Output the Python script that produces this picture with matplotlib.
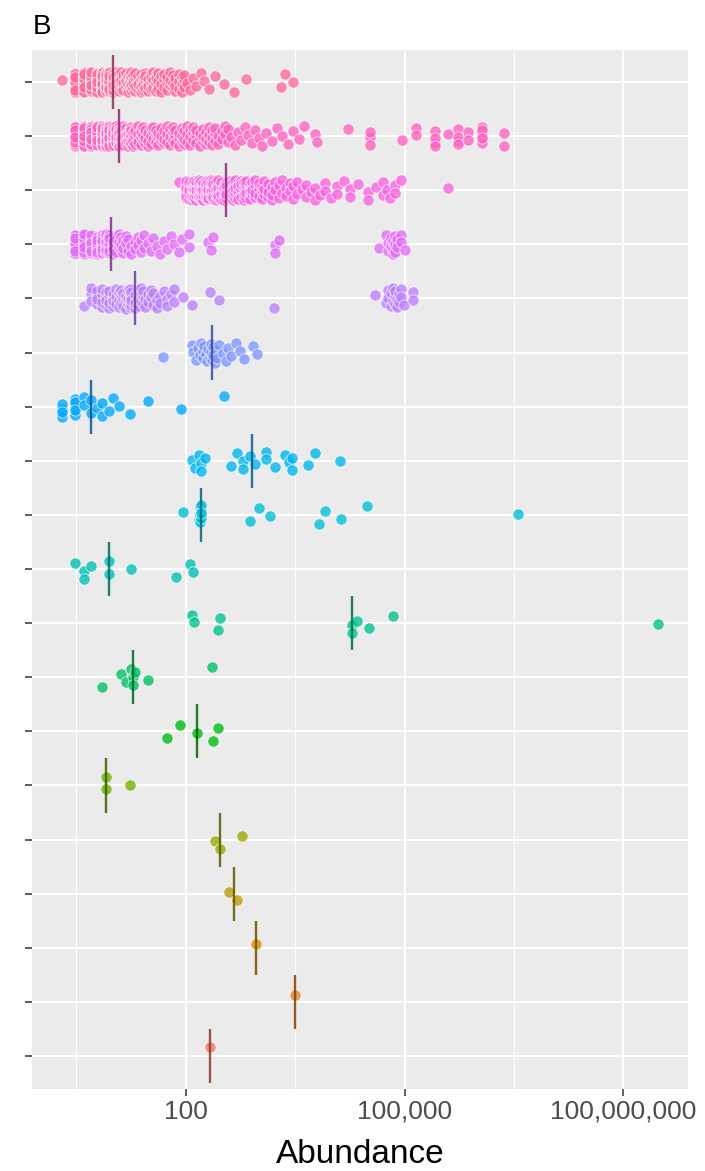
import numpy as np
import matplotlib
matplotlib.use("Agg")
import matplotlib.pyplot as plt
from matplotlib.ticker import FixedLocator, NullFormatter

plt.rcParams['font.family'] = ['Liberation Sans', 'DejaVu Sans']

# ---------------- data (rows listed top to bottom) ----------------
# dense rows: distinct abundance values with their frequencies
r01_values = [2,3,4,5,6,7,8,9,10,11,12,13,14,15,16,17,18,19,20,22,24,26,28,30,33,36,39,42,46,50,55,60,66,72,80,88,95,
              105,115,125,140,160,180,210,250,330,455,660,2000,2300,2950]
r01_counts = [1,18,18,18,17,17,16,16,9,5,5,5,4,4,4,4,4,4,4,4,4,4,4,4,4,4,4,4,3,3,3,3,3,3,3,3,3,
              1,1,1,1,1,1,1,1,1,1,1,1,1,1]

r02_values = [3,4,5,6,7,8,9,10,11,12,13,14,15,16,17,18,19,20,22,24,
              26,28,30,33,36,39,42,46,50,55,60,66,72,80,88,96,
              105,115,125,140,155,170,190,210,230,255,280,310,340,380,
              420,470,520,580,650,720,800,900,1000,1100,1250,1500,1800,2100,2500,3000,3600,4200,5900,6400,
              16600,34000,91000,145000,265000,390000,535000,730000,1170000,2300000]
r02_counts = [28,26,24,22,21,20,19,14,11,10,6,6,5,5,5,4,4,4,4,4,
              3,3,3,3,3,3,3,3,3,3,3,3,3,3,3,3,
              3,3,3,3,3,3,3,3,3,3,2,2,2,2,
              1,1,1,1,1,1,1,1,1,1,1,1,1,1,1,1,1,1,1,1,
              1,3,1,2,4,1,4,2,5,2]

r03_values = [80,100,110,120,130,140,150,160,175,190,205,220,240,260,280,300,330,360,
              400,440,480,520,570,620,680,750,820,900,1000,1100,1200,1350,1500,
              1700,1900,2100,2400,2700,3000,3400,3900,4500,5200,6000,7000,8200,9700,
              12000,15000,18000,23000,32000,40000,50000,58000,64000,75000,88000,390000]
r03_counts = [1,7,7,7,7,7,7,7,7,7,7,7,7,6,6,6,6,6,
              5,5,5,5,5,5,5,5,4,4,3,3,3,3,3,
              2,2,2,2,2,2,2,1,2,1,2,1,2,1,
              2,1,2,1,2,1,2,1,1,2,1,1]

r04_values = [3,4,5,6,7,8,9,10,11,12,13,14,15,16,18,20,22,24,27,30,33,36,40,45,50,56,62,70,80,90,
              112,200,220,240,1700,1900,45000,55000,60000,65000,70000,75000,80000,90000,100000]
r04_counts = [12,10,10,9,9,8,9,4,4,3,3,3,2,2,2,2,2,2,2,1,1,1,1,1,1,1,1,1,1,1,
              2,1,1,1,2,1,1,1,2,2,3,3,2,2,1]

r05_values = [4,5,6,7,8,9,10,11,12,13,14,15,16,17,18,20,22,24,26,28,30,33,36,40,45,50,55,62,69,
              91,121,213,283,1600,39000,55000,60000,65000,70000,75000,80000,85000,90000,98000,132000]
r05_counts = [1,3,4,4,4,4,4,3,3,3,3,3,3,4,4,3,3,3,3,2,2,2,2,2,2,1,2,1,2,
              1,1,1,1,1,1,1,2,2,2,3,2,2,2,1,2]

# sparse rows: individual abundance values
r06 = [49,120,125,140,145,155,160,170,175,180,190,198,205,215,220,225,232,235,240,250,257,270,286,320,
       353,380,414,483,550,630,846,939]
r07 = [2,2,2,2,3,3,3,3,3,4,4,5,5,6,7,7,9,10,12,17,30,85,334]
r08 = [120,132,152,160,164,182,423,511,611,611,755,884,1260,1260,1700,2270,2600,2830,2830,4670,5900,13200]
r09 = [93,150,155,155,158,160,160,160,160,760,1020,1430,6700,8100,13400,31000,3570000]
r10 = [3,4,4,5,9,9,18,74,113,124]
r11 = [120,130,277,295,19000,19000,22300,32600,70000,300000000]
r12 = [7,13,15,18,19,19,20,30,232]
r13 = [56,83,142,240,277]
r14 = [8,8,17]
r15 = [252,296,585]
r16 = [393,511]
r17 = [910]
r18 = [3100]
r19 = [215]

x_tick_values = [100, 100000, 100000000]
x_tick_labels = ["100", "100,000", "100,000,000"]
x_label = "Abundance"
panel_tag = "B"


def expand(values, counts):
    assert len(values) == len(counts)
    return np.repeat(np.asarray(values, float), counts)


rows = [expand(r01_values, r01_counts), expand(r02_values, r02_counts),
        expand(r03_values, r03_counts), expand(r04_values, r04_counts),
        expand(r05_values, r05_counts)] + [np.asarray(r, float) for r in
        [r06, r07, r08, r09, r10, r11, r12, r13, r14, r15, r16, r17, r18, r19]]
n = len(rows)


# ggplot2 hue palette (hcl)
def hcl(h, c, l):
    hr = np.deg2rad(h)
    U, V = c * np.cos(hr), c * np.sin(hr)
    Xn, Yn, Zn = 95.047, 100.0, 108.883
    Y = Yn * ((l + 16) / 116) ** 3 if l > 7.999592 else Yn * l / 903.3
    den = Xn + 15 * Yn + 3 * Zn
    un, vn = 4 * Xn / den, 9 * Yn / den
    u = U / (13 * l) + un
    v = V / (13 * l) + vn
    X = 9.0 * Y * u / (4 * v)
    Z = -X / 3 - 5 * Y + 3 * Y / v
    M = np.array([[3.240479, -1.537150, -0.498535],
                  [-0.969256, 1.875992, 0.041556],
                  [0.055648, -0.204043, 1.057311]])
    rgb = M @ (np.array([X, Y, Z]) / 100.0)
    rgb = np.where(rgb <= 0.0031308, 12.92 * rgb, 1.055 * np.clip(rgb, 0, None) ** (1 / 2.4) - 0.055)
    return tuple(np.clip(rgb, 0, 1))


hues = np.linspace(15, 375, n + 1)[:n]
point_cols = [hcl(h, 100, 65) for h in hues]
line_cols = [hcl(h, 65, 35) for h in hues]

fig = plt.figure(figsize=(7.05, 11.71), dpi=100)
ax = fig.add_axes([32 / 705, 1 - 1088.5 / 1171, (688 - 32) / 705, (1088.5 - 49.5) / 1171])
ax.set_facecolor('#EBEBEB')

golden = 0.6180339887
for k, vals in enumerate(rows):
    ypos = n - 1 - k
    idx = np.arange(len(vals))
    jit = (((idx + 1) * golden + 0.13 * k) % 1.0 - 0.5) * 2 * 0.19
    ax.scatter(vals, ypos + jit, s=66, color=point_cols[ypos], alpha=0.78,
               edgecolors='white', linewidths=0.6, zorder=3)

for k, vals in enumerate(rows):
    ypos = n - 1 - k
    med = np.median(vals)
    ax.plot([med, med], [ypos - 0.5, ypos + 0.5], color=line_cols[ypos],
            lw=1.7, alpha=0.85, zorder=4, solid_capstyle='butt')

ax.set_xscale('log')
allv = np.concatenate(rows)
lo, hi = np.log10(allv.min()), np.log10(allv.max())
pad = 0.05 * (hi - lo)
ax.set_xlim(10 ** (lo - pad), 10 ** (hi + pad))
ax.set_ylim(-0.6, n - 1 + 0.6)

ax.xaxis.set_major_locator(FixedLocator(x_tick_values))
ax.set_xticklabels(x_tick_labels)
ax.xaxis.set_minor_locator(FixedLocator([10 ** 0.5, 10 ** 3.5, 10 ** 6.5]))
ax.xaxis.set_minor_formatter(NullFormatter())
ax.set_yticks(np.arange(n))
ax.set_yticklabels([''] * n)

ax.grid(True, which='major', color='white', lw=1.5, zorder=0)
ax.grid(True, which='minor', axis='x', color='white', lw=0.75, zorder=0)
ax.set_axisbelow(True)
for s in ax.spines.values():
    s.set_visible(False)

ax.tick_params(axis='both', which='major', length=5, width=1.1, color='#333333',
               labelsize=19, labelcolor='#4D4D4D', pad=3)
ax.tick_params(axis='x', which='minor', length=0)

ax.set_xlabel(x_label, fontsize=24, color='black', labelpad=11)
fig.text(33 / 705, 1 - 34 / 1171, panel_tag, fontsize=20, color='black', ha='left', va='baseline')

fig.savefig('out.png', dpi=100)
